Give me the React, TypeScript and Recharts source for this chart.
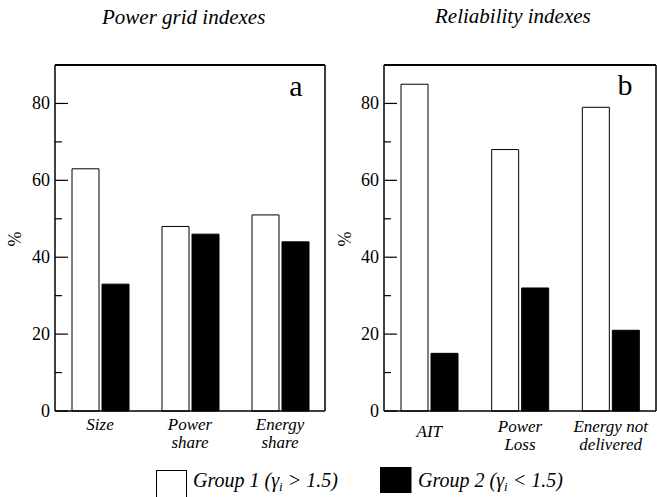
import React from 'react';
import { BarChart, Bar, XAxis, YAxis, ReferenceLine } from 'recharts';

// panel a: power grid indexes
const gridCategories = ['Size', 'Power|share', 'Energy|share'];
const gridGroup1 = [63, 48, 51];
const gridGroup2 = [33, 46, 44];

// panel b: reliability indexes
const relCategories = ['AIT', 'Power|Loss', 'Energy not|delivered'];
const relGroup1 = [85, 68, 79];
const relGroup2 = [15, 32, 21];

const yTicks = [0, 10, 20, 30, 40, 50, 60, 70, 80];
const yLabelTicks = [0, 20, 40, 60, 80];
const groupNames = ['Group 1', 'Group 2'];
const groupSigns = ['>', '<'];
const groupThreshold = '1.5';

const FONT = 'Liberation Serif';

const LeftTick = (props: any) => {
  const { x, y, payload } = props;
  const major = yLabelTicks.includes(payload.value);
  return (
    <g>
      <line x1={x} x2={x + (major ? 13 : 7)} y1={y} y2={y} stroke="#000" strokeWidth={1.2} />
      {major && (
        <text x={x - 5} y={y + 6} textAnchor="end" fontSize={18} fontFamily={FONT} fill="#000">
          {payload.value}
        </text>
      )}
    </g>
  );
};

const RightTick = (props: any) => {
  const { x, y, payload } = props;
  const major = yLabelTicks.includes(payload.value);
  return <line x1={x} x2={x - (major ? 12 : 7)} y1={y} y2={y} stroke="#000" strokeWidth={1.2} />;
};

const makeCategoryTick = (firstDy: number, singleDy: number) => (props: any) => {
  const { x, y, payload } = props;
  const lines = String(payload.value).split('|');
  const start = lines.length === 1 ? singleDy : firstDy;
  return (
    <text x={x} y={y} textAnchor="middle" fontSize={17} fontFamily={FONT} fontStyle="italic" fill="#000">
      {lines.map((l, i) => (
        <tspan key={i} x={x} dy={i === 0 ? start : 18}>
          {l}
        </tspan>
      ))}
    </text>
  );
};

interface PanelProps {
  categories: string[];
  group1: number[];
  group2: number[];
  left: number;
  width: number;
  axisWidth: number;
  rightWidth: number;
  firstDy: number;
  singleDy: number;
}

const Panel: React.FC<PanelProps> = ({ categories, group1, group2, left, width, axisWidth, rightWidth, firstDy, singleDy }) => {
  const data = categories.map((c, i) => ({ name: c, g1: group1[i], g2: group2[i] }));
  return (
    <div style={{ position: 'absolute', left, top: 0 }}>
      <BarChart width={width} height={470} data={data} margin={{ top: 65, right: 0, bottom: 0, left: 0 }} barSize={27} barGap={3}>
        <XAxis
          dataKey="name"
          height={59}
          tickLine={false}
          tickSize={0}
          tickMargin={0}
          interval={0}
          axisLine={{ stroke: '#000', strokeWidth: 1.5 }}
          tick={makeCategoryTick(firstDy, singleDy)}
        />
        <YAxis
          yAxisId="left"
          width={axisWidth}
          domain={[0, 90]}
          ticks={yTicks}
          interval={0}
          tickLine={false}
          tickSize={0}
          tickMargin={0}
          axisLine={{ stroke: '#000', strokeWidth: 1.5 }}
          tick={LeftTick}
        />
        <YAxis
          yAxisId="right"
          orientation="right"
          width={rightWidth}
          domain={[0, 90]}
          ticks={yTicks}
          interval={0}
          tickLine={false}
          tickSize={0}
          tickMargin={0}
          axisLine={{ stroke: '#000', strokeWidth: 1.5 }}
          tick={RightTick}
        />
        <ReferenceLine yAxisId="left" y={90} stroke="#000" strokeWidth={2} />
        <Bar yAxisId="left" dataKey="g1" name={groupNames[0]} fill="#fff" stroke="#000" strokeWidth={1} isAnimationActive={false} />
        <Bar yAxisId="left" dataKey="g2" name={groupNames[1]} fill="#000" stroke="#000" strokeWidth={1} isAnimationActive={false} />
      </BarChart>
    </div>
  );
};

const App: React.FC = () => {
  return (
    <div style={{ position: 'absolute', left: 0, top: 0, width: 657, height: 497, background: '#fff', overflow: 'hidden' }}>
      <Panel categories={gridCategories} group1={gridGroup1} group2={gridGroup2} left={0} width={330} axisWidth={55} rightWidth={5} firstDy={19} singleDy={19} />
      <Panel categories={relCategories} group1={relGroup1} group2={relGroup2} left={330} width={327} axisWidth={54} rightWidth={1} firstDy={21} singleDy={26} />
      <svg width={657} height={497} style={{ position: 'absolute', left: 0, top: 0, pointerEvents: 'none' }}>
        <text x={102} y={24} fontSize={21} fontFamily={FONT} fontStyle="italic">Power grid indexes</text>
        <text x={435} y={23} fontSize={21} fontFamily={FONT} fontStyle="italic">Reliability indexes</text>
        <text x={296} y={96} fontSize={30} textAnchor="middle" fontFamily={FONT}>a</text>
        <text x={625} y={95} fontSize={30} textAnchor="middle" fontFamily={FONT}>b</text>
        <text transform="translate(21,239) rotate(-90)" textAnchor="middle" fontSize={18} fontFamily={FONT}>%</text>
        <text transform="translate(351,239) rotate(-90)" textAnchor="middle" fontSize={18} fontFamily={FONT}>%</text>
        <rect x={156.5} y={470.5} width={30} height={30} fill="#fff" stroke="#000" strokeWidth={1} />
        <text x={193} y={487} fontSize={20} fontFamily={FONT} fontStyle="italic">
          {groupNames[0]} (γ<tspan dy={4} fontSize={13}>i</tspan><tspan dy={-4}> {groupSigns[0]} {groupThreshold})</tspan>
        </text>
        <rect x={380} y={467} width={31.5} height={26} fill="#000" />
        <text x={418} y={487} fontSize={20} fontFamily={FONT} fontStyle="italic">
          {groupNames[1]} (γ<tspan dy={4} fontSize={13}>i</tspan><tspan dy={-4}> {groupSigns[1]} {groupThreshold})</tspan>
        </text>
      </svg>
    </div>
  );
};

export default App;
